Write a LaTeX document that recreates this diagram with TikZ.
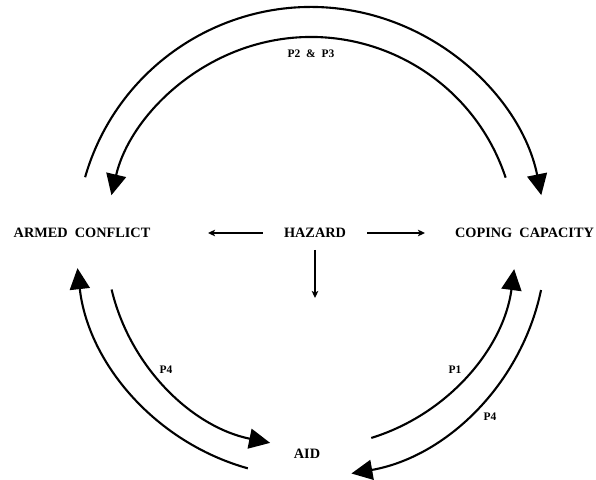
\documentclass[tikz,border=0pt]{standalone}
\usepackage{fontspec}
\setmainfont{Liberation Serif}
\usetikzlibrary{arrows.meta,positioning,calc}

\begin{document}
\begin{tikzpicture}[
    x=1pt, y=1pt,
    >={Stealth[length=7pt,width=6.5pt,inset=1.5pt]},
    every node/.style={font=\fontsize{14.3}{16}\selectfont\bfseries},
    plabel/.style={font=\fontsize{11.5}{13}\selectfont\bfseries},
    linkarrow/.style={->, line width=2.1pt},
    looparrow/.style={line width=2.1pt, -{Triangle[length=21pt,width=20pt]}}
]
    \useasboundingbox (0,0) rectangle (596,479);
    \coordinate (ctr) at (311,237);

    \node (conflict) at (82,246) {ARMED~~CONFLICT};
    \node (hazard) [inner xsep=21pt, inner ysep=12pt] at (315,246) {HAZARD};
    \node (coping) at (524.5,246) {COPING~~CAPACITY};
    \node (aid) at (307,25) {AID};

    \node (ptop) [plabel] at (311,425) {P2~~\&~~P3};
    \node (pfourleft) [plabel] at (166,109) {P4};
    \node (pone) [plabel] at (455,109) {P1};
    \node (pfourright) [plabel] at (490,62) {P4};

    % arrows out of the hazard
    \coordinate (hzleft) at (208,246);
    \coordinate (hzright) at (425,246);
    \coordinate (hzdown) at (315,181);
    \draw[linkarrow] (hazard) -- (hzleft);
    \draw[linkarrow] (hazard) -- (hzright);
    \draw[linkarrow] (hazard) -- (hzdown);

    % outer ring
    \draw[looparrow] ($(ctr)+(164:235pt)$) arc[start angle=164, end angle=11.5, radius=235pt];
    \draw[looparrow] ($(ctr)+(254.4:235pt)$) arc[start angle=254.4, end angle=186.4, radius=235pt];
    \draw[looparrow] ($(ctr)+(348.2:235pt)$) arc[start angle=348.2, end angle=279.9, radius=235pt];

    % inner ring
    \draw[looparrow] ($(ctr)+(18.3:205pt)$) arc[start angle=18.3, end angle=166.8, radius=205pt];
    \draw[looparrow] ($(ctr)+(193.4:205pt)$) arc[start angle=193.4, end angle=258.5, radius=205pt];
    \draw[looparrow] ($(ctr)+(287.1:205pt)$) arc[start angle=287.1, end angle=352.4, radius=205pt];

\end{tikzpicture}
\end{document}
